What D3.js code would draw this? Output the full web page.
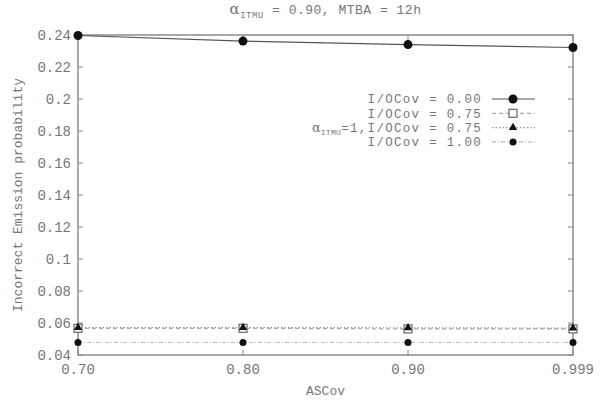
<!DOCTYPE html>
<html>
<head>
<meta charset="utf-8">
<script src="https://cdn.jsdelivr.net/npm/d3@7"></script>
<style>
  body { margin: 0; background: #fff; }
  text { font-family: "Liberation Mono", "DejaVu Sans Mono", monospace; fill: #777; }
</style>
</head>
<body>
<div id="chart"></div>
<script>
const width = 607, height = 400;
const margin = { top: 35, right: 34, bottom: 45, left: 78 };

// data
const ascov = ["0.70", "0.80", "0.90", "0.999"];
const ioCov000 = [0.2397, 0.2362, 0.2340, 0.2322];
const ioCov075 = [0.0567, 0.0567, 0.0563, 0.0563];
const ioCov075a1 = [0.0572, 0.0572, 0.0570, 0.0568];
const ioCov100 = [0.0478, 0.0478, 0.0478, 0.0478];
const yTicks = [0.04, 0.06, 0.08, 0.1, 0.12, 0.14, 0.16, 0.18, 0.2, 0.22, 0.24];

const series = [
  { label: "I/OCov = 0.00", values: ioCov000, dash: null, stroke: "#555", marker: "dot" },
  { label: "I/OCov = 0.75", values: ioCov075, dash: "4,3", stroke: "#aaa", marker: "square" },
  { label: "I/OCov = 0.75", alpha: true, values: ioCov075a1, dash: "1.5,2", stroke: "#999", marker: "tri" },
  { label: "I/OCov = 1.00", values: ioCov100, dash: "4,2,1,2", stroke: "#bbb", marker: "small" }
];

const svg = d3.select("#chart").append("svg")
    .attr("width", width)
    .attr("height", height);

const x = d3.scalePoint()
    .domain(ascov)
    .range([margin.left, width - margin.right]);

const y = d3.scaleLinear()
    .domain([0.04, 0.24])
    .range([height - margin.bottom, margin.top]);

const x0 = margin.left, x1 = width - margin.right;
const y0 = height - margin.bottom, y1 = margin.top;

// frame
svg.append("rect")
    .attr("x", x0).attr("y", y1)
    .attr("width", x1 - x0).attr("height", y0 - y1)
    .attr("fill", "none")
    .attr("stroke", "#8c8c8c")
    .attr("stroke-width", 1.5);

// y ticks (left inward + mirrored right)
const fmtY = d => String(+d.toFixed(2));
const yAxis = svg.append("g");
yTicks.forEach(t => {
  yAxis.append("line").attr("x1", x0).attr("x2", x0 + 5).attr("y1", y(t)).attr("y2", y(t)).attr("stroke", "#888");
  yAxis.append("line").attr("x1", x1).attr("x2", x1 - 5).attr("y1", y(t)).attr("y2", y(t)).attr("stroke", "#888");
  yAxis.append("text")
      .attr("x", x0 - 7)
      .attr("y", y(t))
      .attr("dy", "0.35em")
      .attr("text-anchor", "end")
      .attr("font-size", 14)
      .text(fmtY(t));
});

// x ticks
const xAxis = svg.append("g");
ascov.forEach(c => {
  xAxis.append("line").attr("x1", x(c)).attr("x2", x(c)).attr("y1", y0).attr("y2", y0 - 5).attr("stroke", "#888");
  xAxis.append("line").attr("x1", x(c)).attr("x2", x(c)).attr("y1", y1).attr("y2", y1 + 5).attr("stroke", "#888");
  xAxis.append("text")
      .attr("x", x(c))
      .attr("y", y0 + 19)
      .attr("text-anchor", "middle")
      .attr("font-size", 14)
      .text(c);
});

// axis titles
svg.append("text")
    .attr("x", (x0 + x1) / 2)
    .attr("y", height - 5)
    .attr("text-anchor", "middle")
    .attr("font-size", 13)
    .text("ASCov");

svg.append("text")
    .attr("transform", `translate(22,${(y0 + y1) / 2}) rotate(-90)`)
    .attr("text-anchor", "middle")
    .attr("font-size", 13)
    .text("Incorrect Emission probability");

// title
const title = svg.append("text")
    .attr("x", (x0 + x1) / 2)
    .attr("y", 14)
    .attr("text-anchor", "middle")
    .attr("font-size", 13)
    .attr("letter-spacing", 0.5);
title.append("tspan").attr("font-family", "DejaVu Serif").attr("font-size", 15).text("α");
title.append("tspan").attr("dy", 4).attr("font-size", 9).text("ITMU");
title.append("tspan").attr("dy", -4).text(" = 0.90, MTBA = 12h");

function drawMarker(g, kind, cx, cy) {
  if (kind === "dot") {
    g.append("circle").attr("cx", cx).attr("cy", cy).attr("r", 4.5).attr("fill", "#111");
  } else if (kind === "small") {
    g.append("circle").attr("cx", cx).attr("cy", cy).attr("r", 3.5).attr("fill", "#111");
  } else if (kind === "square") {
    g.append("rect").attr("x", cx - 4).attr("y", cy - 4).attr("width", 8).attr("height", 8)
        .attr("fill", "#fff").attr("stroke", "#666").attr("stroke-width", 1.2);
  } else if (kind === "tri") {
    g.append("path")
        .attr("d", d3.symbol().type(d3.symbolTriangle).size(30)())
        .attr("transform", `translate(${cx},${cy})`)
        .attr("fill", "#111");
  }
}

const line = d3.line()
    .x((d, i) => x(ascov[i]))
    .y(d => y(d));

series.forEach(s => {
  const g = svg.append("g");
  g.append("path")
      .attr("d", line(s.values))
      .attr("fill", "none")
      .attr("stroke", s.stroke)
      .attr("stroke-width", 1.2)
      .attr("stroke-dasharray", s.dash);
  s.values.forEach((v, i) => drawMarker(g, s.marker, x(ascov[i]), y(v)));
});

// legend
const legend = svg.selectAll(".legend")
    .data(series)
    .enter().append("g")
    .attr("class", "legend")
    .attr("transform", (d, i) => `translate(0,${99 + i * 14.3})`);

legend.append("line")
    .attr("x1", 492).attr("x2", 535)
    .attr("stroke", d => d.stroke)
    .attr("stroke-width", 1.2)
    .attr("stroke-dasharray", d => d.dash);

legend.each(function (d) { drawMarker(d3.select(this), d.marker, 513, 0); });

const lt = legend.append("text")
    .attr("x", 482)
    .attr("dy", "0.35em")
    .attr("text-anchor", "end")
    .attr("font-size", 12.5)
    .attr("letter-spacing", 1.3);
lt.each(function (d) {
  const t = d3.select(this);
  if (d.alpha) {
    t.append("tspan").attr("font-family", "DejaVu Serif").attr("font-size", 13).attr("letter-spacing", 0).text("α");
    t.append("tspan").attr("dy", 3).attr("font-size", 8).attr("letter-spacing", 0.3).text("ITMU");
    t.append("tspan").attr("dy", -3).text("=1," + d.label);
  } else {
    t.text(d.label);
  }
});
</script>
</body>
</html>
